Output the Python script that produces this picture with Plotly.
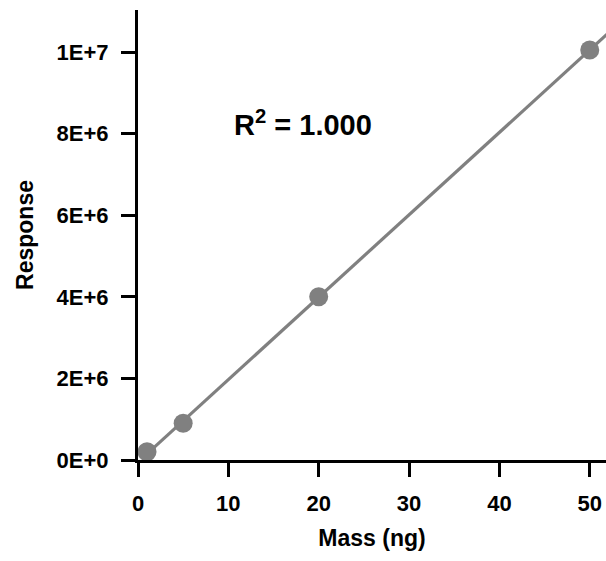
import numpy as np
import plotly.graph_objects as go

# Calibration data
mass_ng = [1, 5, 20, 50]
response = [2.0e5, 9.0e5, 4.0e6, 1.005e7]

x_ticks = [0, 10, 20, 30, 40, 50]
y_ticks = [0, 2e6, 4e6, 6e6, 8e6, 1e7]
y_tick_labels = ["0E+0", "2E+6", "4E+6", "6E+6", "8E+6", "1E+7"]

x_range = [0, 51.8]
y_range = [0, 1.103e7]

GREY = "#808080"
FONT = "Liberation Sans, Arial, sans-serif"

# Linear least-squares fit and coefficient of determination
slope, intercept = np.polyfit(mass_ng, response, 1)
pred = slope * np.array(mass_ng) + intercept
ss_res = float(np.sum((np.array(response) - pred) ** 2))
ss_tot = float(np.sum((np.array(response) - np.mean(response)) ** 2))
r2 = 1 - ss_res / ss_tot

fit_x = np.array([min(mass_ng), x_range[1] + 1])
fit_y = slope * fit_x + intercept

fig = go.Figure()
fig.add_trace(go.Scatter(
    x=fit_x, y=fit_y, mode="lines",
    line=dict(color=GREY, width=3.2),
    hoverinfo="skip", showlegend=False,
))
fig.add_trace(go.Scatter(
    x=mass_ng, y=response, mode="markers",
    marker=dict(color=GREY, size=19, line=dict(width=0)),
    showlegend=False,
))

fig.add_annotation(
    x=10.4, y=8.26e6, xref="x", yref="y",
    xanchor="left", yanchor="middle",
    text=f"R<sup>2</sup> = {r2:.3f}",
    showarrow=False,
    font=dict(family=FONT, size=29, color="black", weight="bold"),
)

axis_common = dict(
    showline=True, linecolor="black", linewidth=3,
    ticks="outside", ticklen=14, tickwidth=3, tickcolor="black",
    showgrid=False, zeroline=False,
    tickfont=dict(family=FONT, size=22, color="black", weight="bold"),
    ticklabelstandoff=8,
)

fig.update_xaxes(
    range=x_range, tickvals=x_ticks,
    title=dict(text="Mass (ng)", font=dict(family=FONT, size=23, color="black", weight="bold"), standoff=15),
    **axis_common,
)
fig.update_yaxes(
    range=y_range, tickvals=y_ticks, ticktext=y_tick_labels,
    title=dict(text="Response", font=dict(family=FONT, size=23, color="black", weight="bold"), standoff=17),
    **axis_common,
)

fig.update_layout(
    width=606, height=561,
    margin=dict(l=138, r=0, t=10, b=101),
    plot_bgcolor="white", paper_bgcolor="white",
)

fig.write_html("out.html")
